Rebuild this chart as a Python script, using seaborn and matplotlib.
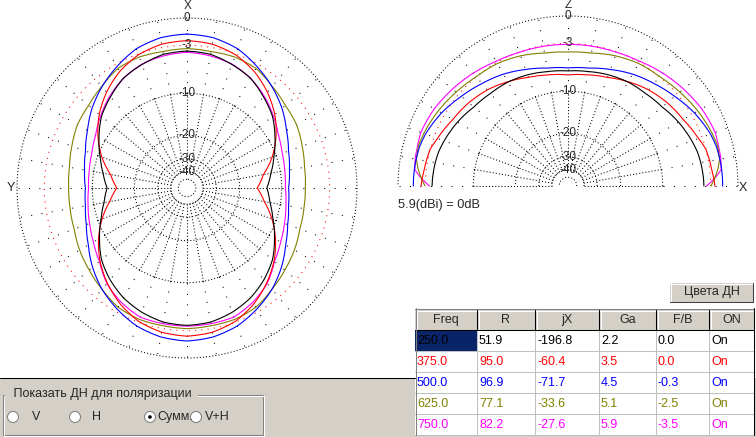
import numpy as np
import matplotlib
matplotlib.use("Agg")
import matplotlib.pyplot as plt
from matplotlib.patches import Rectangle, Circle
import seaborn as sns

# azimuth pattern (dB), angle from +X (top) towards Y (left), 0..180 deg
az_angles = np.arange(0, 181, 10)
az_250 = [-3.7, -3.85, -4.4, -5.0, -6.1, -7.2, -8.8, -10.4, -11.8, -12.9,
          -12.0, -10.6, -8.9, -7.2, -6.0, -5.0, -4.3, -3.8, -3.65]
az_375 = [-2.45, -2.6, -3.1, -4.0, -5.25, -6.75, -8.6, -10.75, -13.4, -15.1,
          -13.2, -10.8, -8.7, -6.9, -5.4, -4.1, -3.1, -2.55, -2.35]
az_500 = [-1.7, -1.85, -2.35, -3.3, -4.3, -5.4, -6.7, -7.75, -8.4, -8.8,
          -8.55, -7.9, -6.85, -5.5, -4.3, -3.35, -2.5, -2.0, -1.8]
az_625 = [-3.4, -3.5, -3.4, -3.55, -4.25, -4.8, -5.05, -5.6, -6.05, -6.2,
          -6.15, -5.95, -5.4, -4.9, -4.3, -3.6, -3.35, -3.35, -3.25]
az_750 = [-3.85, -4.05, -4.35, -5.0, -5.95, -7.05, -8.15, -8.85, -9.2, -9.35,
          -9.0, -8.45, -7.75, -6.8, -5.3, -4.35, -3.65, -3.6, -3.55]

# elevation pattern (dB), elevation angle 0..90 deg (mirrored to 180)
el_angles = np.array([0, 3, 6, 10, 15, 20, 30, 40, 50, 60, 70, 80, 90])
el_250 = [-3.83, -3.85, -3.9, -3.97, -4.1, -4.35, -4.9, -5.55, -5.85, -5.95, -6.2, -6.5, -6.67]
el_375 = [-2.5, -2.6, -2.75, -2.85, -3.0, -3.45, -4.2, -4.65, -5.2, -5.9, -6.6, -7.0, -7.27]
el_500 = [-1.62, -1.62, -1.63, -1.67, -1.75, -1.95, -2.6, -3.4, -4.1, -4.7, -5.4, -6.0, -6.23]
el_625 = [-2.97, -2.5, -2.1, -1.7, -1.6, -1.75, -2.15, -2.6, -3.0, -3.15, -3.5, -3.95, -4.08]
el_750 = [-3.5, -2.5, -1.7, -1.55, -1.5, -1.4, -1.65, -2.05, -2.45, -2.85, -3.05, -3.1, -3.13]

freqs = [250.0, 375.0, 500.0, 625.0, 750.0]
r_vals = [51.9, 95.0, 96.9, 77.1, 82.2]
jx_vals = [-196.8, -60.4, -71.7, -33.6, -27.6]
ga_vals = [2.2, 3.5, 4.5, 5.1, 5.9]
fb_vals = [0.0, 0.0, -0.3, -2.5, -3.5]
on_vals = ['On', 'On', 'On', 'On', 'On']
col_names = ['Freq', 'R', 'jX', 'Ga', 'F/B', 'ON']
line_colors = ['black', 'red', 'blue', '#808000', 'magenta']

ring_levels = [0, -3, -10, -20, -30, -40, -50]
ring_labels = ['0', '-3', '-10', '-20', '-30', '-40']

GRAY = '#d4d0c8'


def arrl_fwd(db):
    db = np.minimum(np.asarray(db, dtype=float), 0)
    return 0.89 ** (-db / 2.0)


def arrl_inv(r):
    r = np.clip(np.asarray(r, dtype=float), 1e-12, 1)
    return -2.0 * np.log(r) / np.log(0.89)


def setup_polar(ax, zero_loc):
    ax.set_theta_zero_location(zero_loc)
    ax.set_theta_direction(1)
    ax.grid(False)
    ax.set_xticks([])
    ax.set_yticks([])
    ax.spines['polar'].set_visible(False)
    ax.patch.set_visible(False)


def draw_grid(ax, span):
    t = np.radians(np.linspace(0, span, span * 2 + 1))
    for lvl in ring_levels:
        if lvl == -3:
            ax.plot(t, np.full_like(t, lvl), color='red', lw=0.75,
                    ls=(0, (1, 5)), clip_on=False)
        else:
            ax.plot(t, np.full_like(t, lvl), color='black', lw=0.75,
                    ls=(0, (1, 2)), clip_on=False)
    stop = span + 1 if span < 360 else 360
    for a in range(0, stop, 10):
        th = np.radians([a, a])
        ax.plot(th, [-40, -10], color='black', lw=0.75, ls=(0, (1, 2)), clip_on=False)
        ax.plot(th, [-10, 0], color='black', lw=0.75, ls=(0, (1, 9)), clip_on=False)


def draw_labels(ax, theta):
    for lvl, lab in zip(ring_levels, ring_labels):
        ax.text(theta, lvl, lab, ha='center', va='center', fontsize=8.5, zorder=5)


def draw_curves(ax, angles, series, span):
    for vals, c in zip(series, line_colors[::-1]):
        vals = np.asarray(vals)
        th = np.radians(np.concatenate([angles, span - angles[::-1]]))
        rr = np.concatenate([vals, vals[::-1]])
        sns.lineplot(x=th, y=rr, ax=ax, color=c, lw=0.8, sort=False,
                     estimator=None, clip_on=False)
        # let the polar transform bend segments between the read points
        ax.lines[-1].get_path()._interpolation_steps = 10


sns.set_style('white')
plt.rcParams['font.family'] = ['Liberation Sans', 'DejaVu Sans']

fig = plt.figure(figsize=(7.56, 4.37), dpi=100)
fig.patch.set_facecolor('white')

W, H = 756.0, 437.0
ui = fig.add_axes([0, 0, 1, 1])
ui.set_xlim(0, W)
ui.set_ylim(H, 0)
ui.axis('off')

# ---- left: azimuth pattern ----
ax_l = fig.add_axes([17 / W, (H - 358) / H, 340 / W, 340 / H], projection='polar')
setup_polar(ax_l, 'N')
draw_grid(ax_l, 360)
draw_curves(ax_l, az_angles, [az_750, az_625, az_500, az_375, az_250], 360)
draw_labels(ax_l, 0)

# ---- right: elevation pattern ----
ax_r = fig.add_axes([398 / W, (H - 356) / H, 340 / W, 340 / H], projection='polar')
setup_polar(ax_r, 'E')
draw_grid(ax_r, 180)
draw_curves(ax_r, el_angles, [el_750, el_625, el_500, el_375, el_250], 180)
draw_labels(ax_r, np.pi / 2)

for ax in (ax_l, ax_r):
    ax.set_xlabel('')
    ax.set_ylabel('')
    ax.set_rscale('function', functions=(arrl_fwd, arrl_inv))
    ax.set_rlim(-100, 0)
    ax.set_yticks([])

# axis letters
ui.text(187.5, 6, 'X', ha='center', va='center', fontsize=8.5)
ui.text(10.5, 188, 'Y', ha='center', va='center', fontsize=9)
ui.text(568, 4.5, 'Z', ha='center', va='center', fontsize=8.5)
ui.text(743, 188, 'X', ha='center', va='center', fontsize=9)
ui.text(398, 205, '5.9(dBi) = 0dB', ha='left', va='center', fontsize=9.2)

# ---- bottom panel ----
ui.add_patch(Rectangle((0, 378), W, H - 378, fc=GRAY, ec='none'))
ui.plot([0, 415], [377.5, 377.5], color='black', lw=0.75)

# group box
ui.add_patch(Rectangle((2.5, 394.5), 260, 40, fc='none', ec='#808080', lw=0.75))
ui.add_patch(Rectangle((3.5, 395.5), 260, 40, fc='none', ec='white', lw=0.75))
ui.text(10, 394, ' Показать ДН для поляризации', ha='left', va='center',
        fontsize=9, backgroundcolor=GRAY)

radio_x = [13, 75, 150, 196]
radio_lab = ['V', 'H', 'Сумм.', 'V+H']
radio_tx = [32, 92, 157, 205]
for i, (cx, lab, tx) in enumerate(zip(radio_x, radio_lab, radio_tx)):
    ui.add_patch(Circle((cx, 417), 5.5, fc='white', ec='#808080', lw=0.75))
    if i == 2:
        ui.add_patch(Circle((cx, 417), 1.8, fc='black', ec='none'))
    ui.text(tx, 417, lab, ha='left', va='center', fontsize=9)

# button
ui.add_patch(Rectangle((670, 283), 83, 19, fc=GRAY, ec='none'))
ui.plot([670, 753], [283.5, 283.5], color='white', lw=0.75)
ui.plot([670.5, 670.5], [283, 302], color='white', lw=0.75)
ui.plot([670, 753], [301.5, 301.5], color='#404040', lw=0.75)
ui.plot([752.5, 752.5], [283, 302], color='#404040', lw=0.75)
ui.text(711.5, 292.5, 'Цвета ДН', ha='center', va='center', fontsize=9)

# table
col_x = [415, 477, 535, 599, 656, 709, 754]
row_y = [309, 330, 351, 372, 393, 414, 435]
ui.add_patch(Rectangle((415, 309), 339, 126, fc='white', ec='none'))
rows = []
for f, r, jx, ga, fb, on in zip(freqs, r_vals, jx_vals, ga_vals, fb_vals, on_vals):
    rows.append(['%.1f' % f, '%.1f' % r, '%.1f' % jx, '%.1f' % ga, '%.1f' % fb, on])

for j, name in enumerate(col_names):
    x0, x1 = col_x[j], col_x[j + 1]
    ui.add_patch(Rectangle((x0, row_y[0]), x1 - x0, row_y[1] - row_y[0], fc=GRAY, ec='none'))
    ui.plot([x0 + 1, x1 - 1], [row_y[0] + 1.5, row_y[0] + 1.5], color='white', lw=0.75)
    ui.plot([x0 + 1.5, x0 + 1.5], [row_y[0] + 1, row_y[1] - 1], color='white', lw=0.75)
    ui.text((x0 + x1) / 2, (row_y[0] + row_y[1]) / 2 + 0.5, name, ha='center', va='center', fontsize=9)

for i, row in enumerate(rows):
    y0, y1 = row_y[i + 1], row_y[i + 2]
    for j, val in enumerate(row):
        x0, x1 = col_x[j], col_x[j + 1]
        if i == 0 and j == 0:
            ui.add_patch(Rectangle((x0, y0), x1 - x0, y1 - y0, fc='#0a246a', ec='none'))
        ui.text(x0 + 2, (y0 + y1) / 2 + 0.5, val, ha='left', va='center',
                fontsize=9, color=line_colors[i])
    ui.plot([415, 754], [y1 - 0.5, y1 - 0.5], color='#c0c0c0', lw=0.75)

for j, x in enumerate(col_x[1:-1]):
    ui.plot([x - 0.5, x - 0.5], [row_y[1], row_y[-1]], color='#c0c0c0', lw=0.75)
    ui.plot([x - 0.5, x - 0.5], [row_y[0], row_y[1]], color='black', lw=0.75)
ui.plot([415, 754], [row_y[1] - 0.5, row_y[1] - 0.5], color='black', lw=0.75)
ui.plot([415.5, 415.5], [308, 435], color='#808080', lw=0.75)
ui.plot([415, 754], [308.5, 308.5], color='#808080', lw=0.75)
ui.plot([753.5, 753.5], [308, 435], color='black', lw=0.75)

fig.savefig('out.png', dpi=100)
